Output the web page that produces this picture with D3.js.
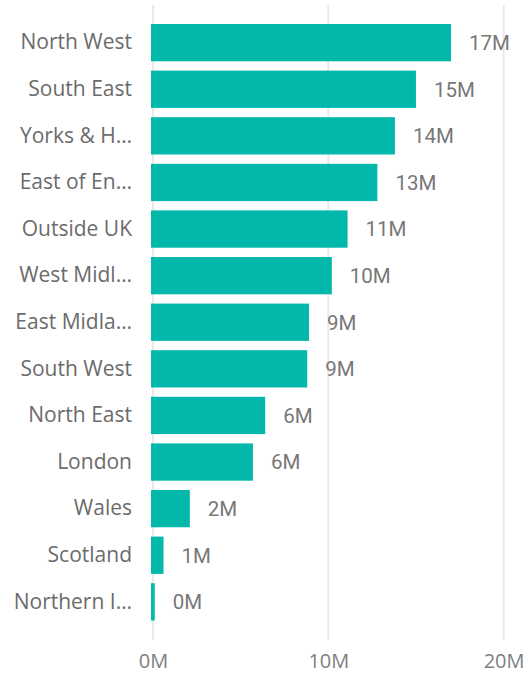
<!DOCTYPE html>
<html>
<head>
<meta charset="utf-8">
<script src="https://cdn.jsdelivr.net/npm/d3@7"></script>
<style>
  body { margin: 0; background: #fff; }
  svg { display: block; }
</style>
</head>
<body>
<div id="chart"></div>
<script>
        // regions (labels as they are shown, already truncated)
        const regions = ["North West", "South East", "Yorks & H…", "East of En…", "Outside UK",
            "West Midl…", "East Midla…", "South West", "North East", "London",
            "Wales", "Scotland", "Northern I…"];
        // values in millions
        const values = [17.0, 15.0, 13.8, 12.8, 11.1, 10.2, 8.9, 8.8, 6.4, 5.7, 2.1, 0.6, 0.1];
        const xTicks = [0, 10, 20];

        const width = 532, height = 678;
        const svg = d3.select("#chart").append("svg").attr("width", width).attr("height", height);

        const x = d3.scaleLinear().domain([0, 20]).range([153, 503.6]);
        const y = d3.scaleBand().domain(regions).range([14.7, 629.8]).paddingInner(0.2).paddingOuter(0.2);

        // gridlines
        svg.append("g")
            .selectAll("line")
            .data(xTicks)
            .enter().append("line")
            .attr("x1", d => x(d)).attr("x2", d => x(d))
            .attr("y1", 5).attr("y2", 640)
            .attr("stroke", "#e9e9e9")
            .attr("stroke-width", 2);

        // x axis labels
        const xAxis = d3.axisBottom(x).tickValues(xTicks).tickFormat(d => d + "M").tickSize(0).tickPadding(0);
        const gx = svg.append("g").attr("transform", "translate(0,654)").call(xAxis);
        gx.select(".domain").remove();
        gx.selectAll("text")
            .attr("dy", "0.71em")
            .style("font-family", "'Segoe UI', 'Open Sans', sans-serif")
            .style("font-size", "20px")
            .style("fill", "#808080");

        // y axis labels
        const yAxis = d3.axisLeft(y).tickSize(0).tickPadding(0);
        const gy = svg.append("g").attr("transform", "translate(132,0)").call(yAxis);
        gy.select(".domain").remove();
        gy.selectAll("text")
            .style("font-family", "'Segoe UI', 'Open Sans', sans-serif")
            .style("font-size", "21px")
            .style("fill", "#6b6b6b");

        // bars
        svg.append("g")
            .selectAll("rect")
            .data(values)
            .enter().append("rect")
            .attr("x", 151)
            .attr("y", (d, i) => y(regions[i]))
            .attr("width", d => Math.max(3, x(d) - 151))
            .attr("height", y.bandwidth())
            .attr("fill", "#01B8AA");

        // data labels
        svg.append("g")
            .selectAll("text")
            .data(values)
            .enter().append("text")
            .attr("x", d => Math.max(154, x(d)) + 18)
            .attr("y", (d, i) => y(regions[i]) + y.bandwidth() / 2)
            .attr("dy", "0.36em")
            .style("font-family", "'DIN', Roboto, sans-serif")
            .style("font-size", "20.5px")
            .style("fill", "#777777")
            .text(d => Math.round(d) + "M");
</script>
</body>
</html>
